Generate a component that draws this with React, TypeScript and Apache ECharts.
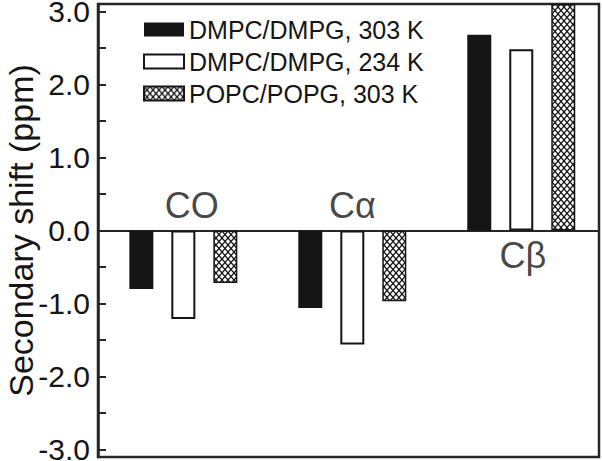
import React, { useEffect, useRef } from "react";
import * as echarts from "echarts";

// ---- data ----
const categories = ["CO", "Cα", "Cβ"];
const seriesNames = ["DMPC/DMPG, 303 K", "DMPC/DMPG, 234 K", "POPC/POPG, 303 K"];
const dmpc303 = [-0.8, -1.06, 2.68];
const dmpc234 = [-1.21, -1.56, 2.48];
const popc303 = [-0.72, -0.97, 3.1];
const yTickValues = [-3, -2.5, -2, -1.5, -1, -0.5, 0, 0.5, 1, 1.5, 2, 2.5, 3];
const yLabelValues = [-3, -2, -1, 0, 1, 2, 3];
// anchor of each group's name (x in group units, y in ppm)
const labelAnchorX = [0.05, 1.0, 2.01];
const labelAnchorY = [0.34, 0.34, -0.34];

const INK = "#151515";
const LINE = "#262626";
const FONT = "Liberation Sans, Arial, sans-serif";

function makeHatch(): HTMLCanvasElement {
  const c = document.createElement("canvas");
  const w = 6;
  const h = 7;
  c.width = w;
  c.height = h;
  const ctx = c.getContext("2d")!;
  ctx.fillStyle = "#ffffff";
  ctx.fillRect(0, 0, w, h);
  ctx.strokeStyle = INK;
  ctx.lineWidth = 1.3;
  ctx.beginPath();
  ctx.moveTo(0, 0);
  ctx.lineTo(w, h);
  ctx.moveTo(w, 0);
  ctx.lineTo(0, h);
  ctx.stroke();
  return c;
}

export default function App() {
  const ref = useRef<HTMLDivElement>(null);

  useEffect(() => {
    if (!ref.current) return;
    const chart = echarts.init(ref.current, null, { renderer: "svg" });
    const hatch = makeHatch();
    const toXY = (arr: number[]) => arr.map((v, i) => [i, v]);

    chart.setOption({
      animation: false,
      backgroundColor: "#ffffff",
      grid: {
        left: 98,
        right: 3,
        top: 4,
        bottom: 4,
        containLabel: false,
        outerBoundsMode: "none",
        show: true,
        borderColor: LINE,
        borderWidth: 2.5,
        backgroundColor: "transparent",
      },
      legend: {
        orient: "vertical",
        left: 143,
        top: 17,
        padding: 0,
        itemWidth: 40,
        itemHeight: 14,
        itemGap: 7,
        icon: "rect",
        data: seriesNames,
        textStyle: { fontSize: 25, color: INK, fontFamily: FONT, lineHeight: 24 },
      },
      xAxis: {
        type: "value",
        min: -0.505,
        max: 2.46,
        axisLine: { show: true, onZero: true, lineStyle: { color: LINE, width: 2 } },
        axisTick: { show: false },
        axisLabel: { show: false },
        splitLine: { show: false },
      },
      yAxis: {
        type: "value",
        min: -3.1,
        max: 3.1,
        name: "Secondary shift (ppm)",
        nameLocation: "middle",
        nameGap: 60,
        nameMoveOverlap: false,
        nameTextStyle: { fontSize: 34, color: INK, fontFamily: FONT },
        axisLine: { show: true, onZero: false, lineStyle: { color: LINE, width: 2.5 } },
        axisTick: {
          show: true,
          inside: true,
          length: 8,
          customValues: yTickValues,
          lineStyle: { color: LINE, width: 2 },
        },
        axisLabel: {
          show: true,
          margin: 8,
          fontSize: 30,
          lineHeight: 22,
          color: INK,
          fontFamily: FONT,
          customValues: yLabelValues,
          formatter: (v: number) => v.toFixed(1),
        },
        splitLine: { show: false },
      },
      series: [
        {
          name: seriesNames[0],
          type: "bar",
          data: toXY(dmpc303),
          barWidth: 24,
          barGap: "75%",
          itemStyle: { color: INK },
        },
        {
          name: seriesNames[1],
          type: "bar",
          data: toXY(dmpc234),
          barWidth: 24,
          barGap: "75%",
          itemStyle: { color: "#ffffff", borderColor: INK, borderWidth: 2 },
        },
        {
          name: seriesNames[2],
          type: "bar",
          data: toXY(popc303),
          barWidth: 24,
          barGap: "75%",
          itemStyle: {
            color: { image: hatch, repeat: "repeat" },
            borderColor: INK,
            borderWidth: 1.5,
          },
        },
        {
          name: "groups",
          type: "scatter",
          symbolSize: 0,
          silent: true,
          itemStyle: { color: INK },
          data: categories.map((c, i) => ({ name: c, value: [labelAnchorX[i], labelAnchorY[i]] })),
          label: {
            show: true,
            position: "inside",
            formatter: (p: any) => p.name,
            fontSize: 36,
            color: INK,
            fontFamily: FONT,
            textBorderWidth: 0,
            textBorderColor: "transparent",
          },
        },
      ],
    });

    return () => chart.dispose();
  }, []);

  return (
    <div
      ref={ref}
      style={{ position: "fixed", left: 0, top: 0, width: 602, height: 461, background: "#fff" }}
    />
  );
}
